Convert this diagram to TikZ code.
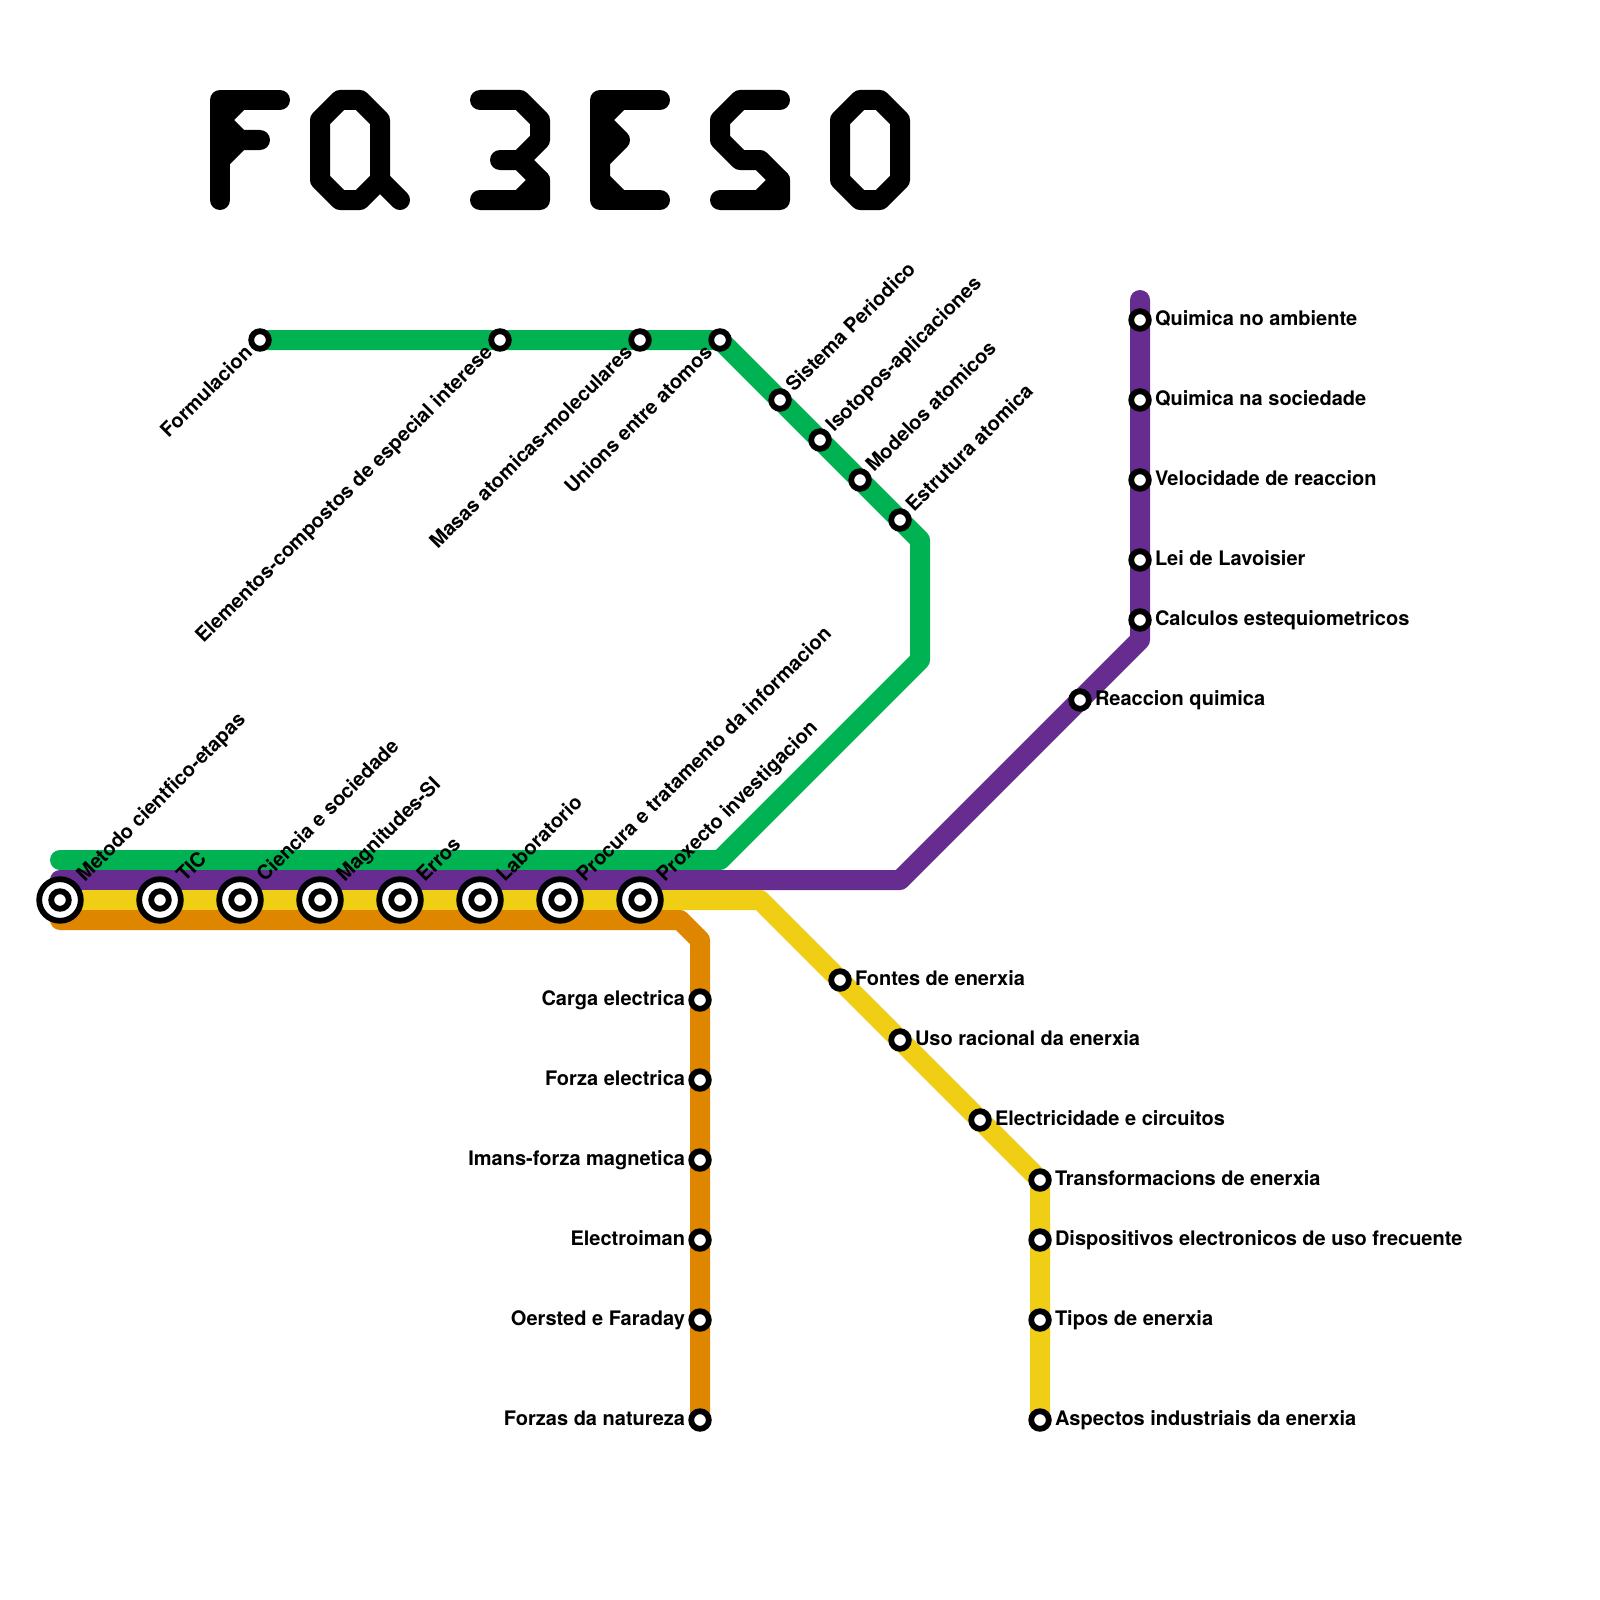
\documentclass[tikz,border=0pt]{standalone}
\usepackage{fontspec}
\setmainfont{TeX Gyre Heros}
\usetikzlibrary{backgrounds}
\definecolor{lgreen}{HTML}{00B251}
\definecolor{lpurple}{HTML}{662C90}
\definecolor{lyellow}{HTML}{F0CE15}
\definecolor{lorange}{HTML}{DF8600}
\tikzset{
  x=1pt,y=-1pt,
  metro/.style={line width=20pt,line cap=round,line join=round},
  glyph/.style={line width=20pt,line cap=round,line join=round,black},
  stn/.style={circle,draw=black,fill=white,line width=5.8pt,minimum size=17.6pt,inner sep=0pt,outer sep=0pt},
  hub/.style={circle,draw=black,fill=white,line width=5.8pt,minimum size=41.6pt,inner sep=0pt,outer sep=0pt},
  lab/.style={font=\fontsize{20}{24}\selectfont\bfseries,inner sep=0pt,outer sep=0pt,text=black},
  lr/.style={lab,anchor=base west,xshift=15pt,yshift=-5pt},
  ll/.style={lab,anchor=base east,xshift=-15pt,yshift=-5pt},
  lur/.style={lab,xshift=14.1pt,yshift=7.1pt,rotate=45,anchor=base west},
  ldl/.style={lab,xshift=-6.6pt,yshift=-14.1pt,rotate=45,anchor=base east},
  lhub/.style={lab,xshift=24.9pt,yshift=17.3pt,rotate=45,anchor=base west},
}
\begin{document}
\begin{tikzpicture}
\useasboundingbox (0,0) rectangle (1600,1600);
% bends and free ends
\coordinate (gs) at (60,860);
\coordinate (g1) at (720,860);
\coordinate (g2) at (920,660);
\coordinate (g3) at (920,540);
\coordinate (ps) at (60,880);
\coordinate (p1) at (900,880);
\coordinate (p2) at (1140,640);
\coordinate (pe) at (1140,300);
\coordinate (y1) at (760,900);
\coordinate (os) at (60,920);
\coordinate (o1) at (680,920);
\coordinate (o2) at (700,940);
% hubs
\foreach \n/\x in {a/60,b/160,c/240,d/320,e/400,f/480,g/560,h/640}{
  \node[hub] (hub\n) at (\x,900) {};
  \node[stn] (in\n) at (\x,900) {};
}
% green stations
\node[stn] (gA) at (260,340) {};
\node[stn] (gB) at (500,340) {};
\node[stn] (gC) at (640,340) {};
\node[stn] (gD) at (720,340) {};
\node[stn] (gE) at (780,400) {};
\node[stn] (gF) at (820,440) {};
\node[stn] (gG) at (860,480) {};
\node[stn] (gH) at (900,520) {};
% purple stations
\node[stn] (pA) at (1080,700) {};
\node[stn] (pB) at (1140,620) {};
\node[stn] (pC) at (1140,560) {};
\node[stn] (pD) at (1140,480) {};
\node[stn] (pE) at (1140,400) {};
\node[stn] (pF) at (1140,320) {};
% yellow stations
\node[stn] (yA) at (840,980) {};
\node[stn] (yB) at (900,1040) {};
\node[stn] (yC) at (980,1120) {};
\node[stn] (yD) at (1040,1180) {};
\node[stn] (yE) at (1040,1240) {};
\node[stn] (yF) at (1040,1320) {};
\node[stn] (yG) at (1040,1420) {};
% orange stations
\node[stn] (oA) at (700,1000) {};
\node[stn] (oB) at (700,1080) {};
\node[stn] (oC) at (700,1160) {};
\node[stn] (oD) at (700,1240) {};
\node[stn] (oE) at (700,1320) {};
\node[stn] (oF) at (700,1420) {};
% lines
\begin{scope}[on background layer]
\draw[metro,lgreen] (gs) -- (g1) -- (g2) -- (g3) -- (gH.center) -- (gG.center) -- (gF.center) -- (gE.center) -- (gD.center) -- (gC.center) -- (gB.center) -- (gA.center);
\draw[metro,lpurple] (ps) -- (p1) -- (pA.center) -- (p2) -- (pB.center) -- (pC.center) -- (pD.center) -- (pE.center) -- (pF.center) -- (pe);
\draw[metro,lyellow] (huba.center) -- (y1) -- (yA.center) -- (yB.center) -- (yC.center) -- (yD.center) -- (yE.center) -- (yF.center) -- (yG.center);
\draw[metro,lorange] (os) -- (o1) -- (o2) -- (oA.center) -- (oB.center) -- (oC.center) -- (oD.center) -- (oE.center) -- (oF.center);
\end{scope}
% labels
\node[lhub] (la) at (huba) {Metodo cientfico-etapas};
\node[lhub] (lb) at (hubb) {TIC};
\node[lhub] (lc) at (hubc) {Ciencia e sociedade};
\node[lhub] (ld) at (hubd) {Magnitudes-SI};
\node[lhub] (le) at (hube) {Erros};
\node[lhub] (lf) at (hubf) {Laboratorio};
\node[lhub] (lg) at (hubg) {Procura e tratamento da informacion};
\node[lhub] (lh) at (hubh) {Proxecto investigacion};
\node[ldl] (lgA) at (gA) {Formulacion};
\node[ldl] (lgB) at (gB) {Elementos-compostos de especial interese};
\node[ldl] (lgC) at (gC) {Masas atomicas-moleculares};
\node[ldl] (lgD) at (gD) {Unions entre atomos};
\node[lur] (lgE) at (gE) {Sistema Periodico};
\node[lur] (lgF) at (gF) {Isotopos-aplicaciones};
\node[lur] (lgG) at (gG) {Modelos atomicos};
\node[lur] (lgH) at (gH) {Estrutura atomica};
\node[lr] (lpA) at (pA) {Reaccion quimica};
\node[lr] (lpB) at (pB) {Calculos estequiometricos};
\node[lr] (lpC) at (pC) {Lei de Lavoisier};
\node[lr] (lpD) at (pD) {Velocidade de reaccion};
\node[lr] (lpE) at (pE) {Quimica na sociedade};
\node[lr] (lpF) at (pF) {Quimica no ambiente};
\node[lr] (lyA) at (yA) {Fontes de enerxia};
\node[lr] (lyB) at (yB) {Uso racional da enerxia};
\node[lr] (lyC) at (yC) {Electricidade e circuitos};
\node[lr] (lyD) at (yD) {Transformacions de enerxia};
\node[lr] (lyE) at (yE) {Dispositivos electronicos de uso frecuente};
\node[lr] (lyF) at (yF) {Tipos de enerxia};
\node[lr] (lyG) at (yG) {Aspectos industriais da enerxia};
\node[ll] (loA) at (oA) {Carga electrica};
\node[ll] (loB) at (oB) {Forza electrica};
\node[ll] (loC) at (oC) {Imans-forza magnetica};
\node[ll] (loD) at (oD) {Electroiman};
\node[ll] (loE) at (oE) {Oersted e Faraday};
\node[ll] (loF) at (oF) {Forzas da natureza};
% title strokes
\begin{scope}[xshift=220pt]
\draw[glyph] (60,100) -- (0,100) -- (0,200);
\draw[glyph] (20,100) -- (0,120) -- (20,140) -- (40,140);
\draw[glyph] (20,140) -- (0,160);
\draw[glyph] (120,100) -- (140,100) -- (160,120) -- (160,180) -- (140,200) -- (120,200) -- (100,180) -- (100,120) -- cycle;
\draw[glyph] (160,180) -- (180,200);
\draw[glyph] (260,100) -- (300,100) -- (320,120) -- (320,140) -- (300,160) -- (280,160);
\draw[glyph] (300,160) -- (320,180) -- (320,200) -- (260,200);
\draw[glyph] (320,180) -- (300,200);
\draw[glyph] (440,100) -- (380,100) -- (380,200) -- (440,200);
\draw[glyph] (400,100) -- (380,120) -- (400,140) -- (380,160) -- (380,180) -- (400,200);
\draw[glyph] (560,100) -- (520,100) -- (500,120) -- (500,140) -- (520,160) -- (540,160) -- (560,180) -- (560,200) -- (500,200);
\draw[glyph] (560,180) -- (540,200);
\draw[glyph] (640,100) -- (660,100) -- (680,120) -- (680,180) -- (660,200) -- (640,200) -- (620,180) -- (620,120) -- cycle;
\end{scope}
\end{tikzpicture}
\end{document}
